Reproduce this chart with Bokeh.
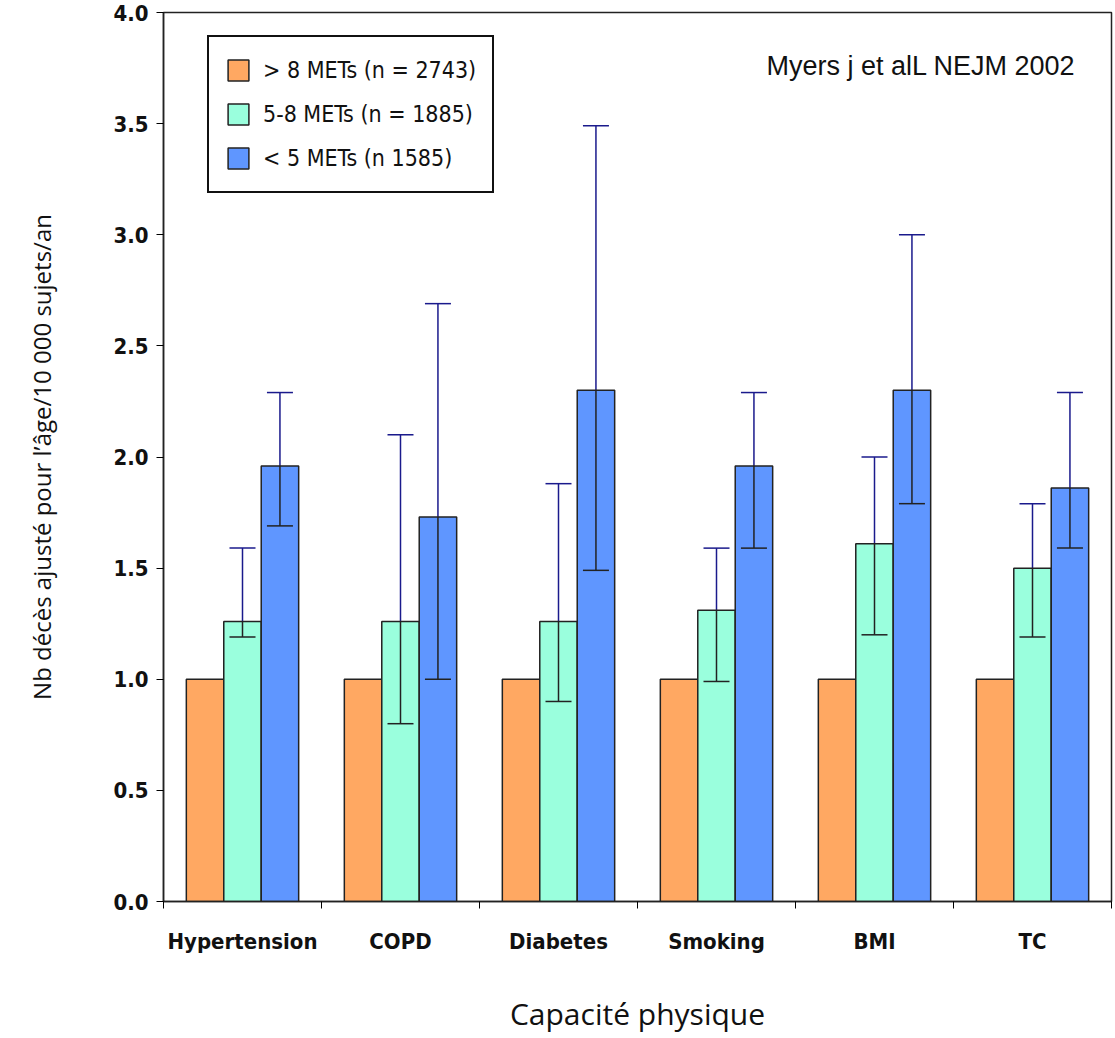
from bokeh.plotting import figure
from bokeh.models import ColumnDataSource, FixedTicker, Whisker, TeeHead, Legend, LegendItem, Label
from bokeh.embed import file_html
from bokeh.resources import INLINE

categories = ["Hypertension", "COPD", "Diabetes", "Smoking", "BMI", "TC"]
high = [1.0, 1.0, 1.0, 1.0, 1.0, 1.0]
mid = [1.26, 1.26, 1.26, 1.31, 1.61, 1.50]
mid_lo = [1.19, 0.80, 0.90, 0.99, 1.20, 1.19]
mid_hi = [1.59, 2.10, 1.88, 1.59, 2.00, 1.79]
low = [1.96, 1.73, 2.30, 1.96, 2.30, 1.86]
low_lo = [1.69, 1.00, 1.49, 1.59, 1.79, 1.59]
low_hi = [2.29, 2.69, 3.49, 2.29, 3.00, 2.29]
labels = ["> 8 METs (n = 2743)", "5-8 METs (n = 1885)", "< 5 METs (n 1585)"]
colors = ["#FFA862", "#9AFFDD", "#5F96FF"]

centers = [i + 0.5 for i in range(len(categories))]
bw = 0.237
src = ColumnDataSource(data=dict(
    xo=[c - bw for c in centers], xg=centers, xb=[c + bw for c in centers],
    high=high, mid=mid, mid_lo=mid_lo, mid_hi=mid_hi,
    low=low, low_lo=low_lo, low_hi=low_hi))

p = figure(width=1113, height=1036, x_range=(0, 6), y_range=(0, 4.0),
           output_backend="svg", toolbar_location=None, tools="",
           min_border_left=163, min_border_right=2, min_border_top=12, min_border_bottom=127)
p.grid.visible = False
p.outline_line_color = "#222222"
p.outline_line_width = 1.5

r1 = p.vbar(x="xo", top="high", width=bw, fill_color=colors[0], line_color="#222222", line_width=1.5, source=src)
r2 = p.vbar(x="xg", top="mid", width=bw, fill_color=colors[1], line_color="#222222", line_width=1.5, source=src)
r3 = p.vbar(x="xb", top="low", width=bw, fill_color=colors[2], line_color="#222222", line_width=1.5, source=src)

for xc, val, lo, hi in [("xg", "mid", "mid_lo", "mid_hi"), ("xb", "low", "low_lo", "low_hi")]:
    p.add_layout(Whisker(base=xc, lower=val, upper=hi, source=src, line_color="#1a1a8c", line_width=1.5,
                         upper_head=TeeHead(size=26, line_color="#1a1a8c", line_width=1.5), lower_head=None))
    p.segment(x0=xc, y0=lo, x1=xc, y1=val, line_color="#222222", line_width=1.5, source=src)
    p.scatter(x=xc, y=lo, marker="dash", size=26, line_color="#222222", line_width=1.5, source=src)

p.xaxis.ticker = FixedTicker(ticks=centers, minor_ticks=list(range(7)))
p.xaxis.major_label_overrides = {c: n for c, n in zip(centers, categories)}
p.xaxis.major_tick_out = 0
p.xaxis.major_tick_in = 0
p.xaxis.minor_tick_out = 7
p.xaxis.minor_tick_in = 0
p.xaxis.major_label_text_font = "DejaVu Sans Condensed"
p.xaxis.major_label_text_font_style = "bold"
p.xaxis.major_label_text_font_size = "22px"
p.xaxis.major_label_standoff = 20
p.xaxis.axis_label = "Capacité physique"
p.xaxis.axis_label_text_font = "Open Sans"
p.xaxis.axis_label_text_font_style = "normal"
p.xaxis.axis_label_text_font_size = "30px"
p.xaxis.axis_label_standoff = 36

p.yaxis.ticker = FixedTicker(ticks=[0, 0.5, 1, 1.5, 2, 2.5, 3, 3.5, 4], minor_ticks=[])
p.yaxis.major_label_overrides = {0: "0.0", 1: "1.0", 2: "2.0", 3: "3.0", 4: "4.0"}
p.yaxis.major_tick_out = 7
p.yaxis.major_tick_in = 0
p.yaxis.major_label_text_font = "DejaVu Sans Condensed"
p.yaxis.major_label_text_font_style = "bold"
p.yaxis.major_label_text_font_size = "22px"
p.yaxis.major_label_standoff = 8
p.yaxis.axis_label = "Nb décès ajusté pour l’âge/10 000 sujets/an"
p.yaxis.axis_label_text_font = "Open Sans"
p.yaxis.axis_label_text_font_style = "normal"
p.yaxis.axis_label_text_font_size = "24px"
p.yaxis.axis_label_standoff = 52
for ax in (p.xaxis, p.yaxis):
    ax.axis_line_color = "#222222"
    ax.axis_line_width = 1.5
    ax.major_label_text_color = "#111111"
    ax.axis_label_text_color = "#111111"

legend = Legend(items=[LegendItem(label=labels[i], renderers=[r]) for i, r in enumerate([r1, r2, r3])],
                location=(44, 708), border_line_color="#111111", border_line_width=2, border_line_alpha=1,
                label_text_font="DejaVu Sans Condensed", label_text_font_size="23px", label_text_color="#111111",
                glyph_width=26, glyph_height=26, label_height=34, spacing=10,
                padding=16, margin=0, label_standoff=12)
p.add_layout(legend, "center")

p.add_layout(Label(x=1075 - 163, y=889 - 53, x_units="screen", y_units="screen",
                   text="Myers j et alL NEJM 2002", text_font="Liberation Sans", text_color="#111111",
                   text_font_size="27px", text_align="right", text_baseline="middle"))

open("out.html", "w").write(file_html(p, INLINE))
